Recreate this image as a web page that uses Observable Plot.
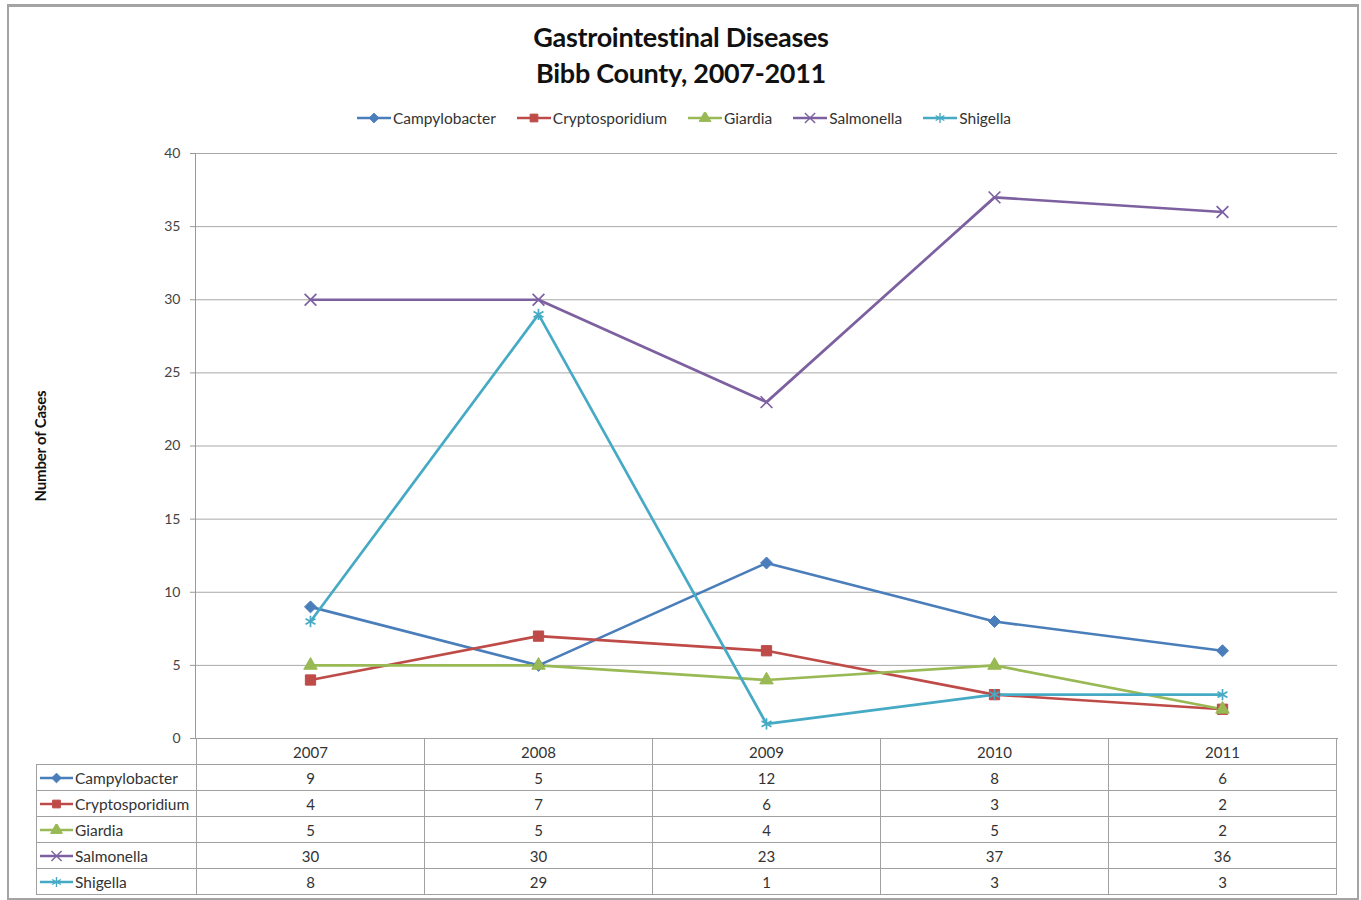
<!DOCTYPE html>
<html>
<head>
<meta charset="utf-8">
<script src="https://cdn.jsdelivr.net/npm/d3@7"></script>
<script src="https://cdn.jsdelivr.net/npm/@observablehq/plot@0.6"></script>
<style>
  html, body { margin: 0; padding: 0; background: #fff; }
  #wrap { position: relative; width: 1361px; height: 900px; font-family: Lato, "Open Sans", sans-serif; color: #222; overflow: hidden; }
  #frame { position: absolute; left: 7px; top: 4px; width: 1348px; height: 891px; border: 2px solid #a4a4a4; border-top-width: 3px; box-sizing: content-box; }
  #title { position: absolute; left: 0; width: 1362px; top: 19px; text-align: center; font-weight: bold; font-size: 27px; line-height: 36px; color: #111; letter-spacing: -0.3px; }
  #legend { position: absolute; left: 0; width: 1368px; top: 109px; display: flex; justify-content: center; gap: 21px; font-size: 15.5px; color: #333; }
  .item { display: flex; align-items: center; gap: 2px; }
  #ylab { position: absolute; left: 40px; top: 446px; transform: translate(-50%, -50%) rotate(-90deg); font-weight: bold; font-size: 15px; white-space: nowrap; color: #111; letter-spacing: -0.2px; }
  #plot { position: absolute; left: 0; top: 0; }
  #table { position: absolute; top: 738px; border-collapse: collapse; font-size: 15px; color: #333; table-layout: fixed; }
  #table td { border: 1px solid #a0a0a0; height: 26px; padding: 0; text-align: center; box-sizing: border-box; }
  #table td.lab { text-align: left; white-space: nowrap; font-size: 15.5px; }
  #table td.blank { border-left: none; border-top: none; }
  .keyc { display: inline-flex; align-items: center; gap: 2px; padding-left: 3px; }
</style>
</head>
<body>
<div id="wrap">
  <div id="frame"></div>
  <div id="title">Gastrointestinal Diseases<br>Bibb County, 2007-2011</div>
  <div id="legend"></div>
  <div id="ylab">Number of Cases</div>
  <div id="plot"></div>
  <table id="table"></table>
</div>
<script>
const years = ["2007", "2008", "2009", "2010", "2011"];
const seriesNames = ["Campylobacter", "Cryptosporidium", "Giardia", "Salmonella", "Shigella"];
const campylobacter = [9, 5, 12, 8, 6];
const cryptosporidium = [4, 7, 6, 3, 2];
const giardia = [5, 5, 4, 5, 2];
const salmonella = [30, 30, 23, 37, 36];
const shigella = [8, 29, 1, 3, 3];
const yTicks = [0, 5, 10, 15, 20, 25, 30, 35, 40];
const colors = ["#4a7ebb", "#be4b48", "#98b954", "#7d60a0", "#46aac5"];
const symbols = ["diamond2", "square", "triangle", "times", "asterisk"];
const filled = [true, true, true, false, false];
const markerR = [5.4, 5.8, 5.0, 5.4, 5.4];

const valuesBySeries = [campylobacter, cryptosporidium, giardia, salmonella, shigella];
const data = [];
seriesNames.forEach((s, i) => years.forEach((y, j) => data.push({series: s, year: y, value: valuesBySeries[i][j]})));

const W = 1361, H = 770;
const marks = [
  Plot.ruleY(yTicks.filter(t => t > 0), {stroke: "#a8a8a8", strokeWidth: 1}),
  Plot.axisY({ticks: yTicks, tickSize: 5, tickPadding: 10, fontSize: 14, color: "#444", stroke: "#999", label: null}),
  Plot.frame({anchor: "left", stroke: "#999"}),
  Plot.frame({anchor: "bottom", stroke: "#999"}),
  Plot.line(data, {x: "year", y: "value", z: "series", stroke: "series", strokeWidth: 2.7})
];
seriesNames.forEach((s, i) => {
  const sub = data.filter(d => d.series === s);
  if (filled[i]) {
    marks.push(Plot.dot(sub, {x: "year", y: "value", symbol: () => symbols[i], fill: colors[i], stroke: colors[i], strokeWidth: 1, r: markerR[i]}));
  } else {
    marks.push(Plot.dot(sub, {x: "year", y: "value", symbol: () => symbols[i], stroke: colors[i], strokeWidth: 1.7, r: markerR[i]}));
  }
});

const chart = Plot.plot({
  width: W, height: H,
  marginLeft: 195, marginRight: 24, marginTop: 153, marginBottom: H - 738,
  style: {background: "transparent", fontFamily: "Lato, sans-serif"},
  x: {type: "band", domain: years, padding: 0, axis: null},
  y: {domain: [0, 40]},
  color: {domain: seriesNames, range: colors},
  symbol: {domain: symbols, range: symbols},
  marks
});
document.getElementById("plot").appendChild(chart);

function keySvg(i, w) {
  const svg = d3.create("svg").attr("width", w).attr("height", 12);
  svg.append("line").attr("x1", 0).attr("x2", w).attr("y1", 6).attr("y2", 6).attr("stroke", colors[i]).attr("stroke-width", 2.6);
  const sym = {diamond2: d3.symbolDiamond2, square: d3.symbolSquare, triangle: d3.symbolTriangle, times: d3.symbolTimes, asterisk: d3.symbolAsterisk}[symbols[i]];
  const path = d3.symbol(sym, filled[i] ? 60 : 70)();
  svg.append("path").attr("d", path).attr("transform", `translate(${w/2},6)`)
    .attr("fill", filled[i] ? colors[i] : "none").attr("stroke", colors[i]).attr("stroke-width", filled[i] ? 1 : 1.4);
  return svg.node();
}

const legend = document.getElementById("legend");
seriesNames.forEach((s, i) => {
  const it = document.createElement("div");
  it.className = "item";
  it.appendChild(keySvg(i, 34));
  const t = document.createElement("span"); t.textContent = s; it.appendChild(t);
  legend.appendChild(it);
});

const xs = chart.scale("x");
const bw = xs.bandwidth;
const leftW = xs.apply(years[0]) - 36;
const table = document.getElementById("table");
table.style.left = "36px";
const cg = document.createElement("colgroup");
[leftW, ...years.map(() => bw)].forEach(w => { const c = document.createElement("col"); c.style.width = w + "px"; cg.appendChild(c); });
table.appendChild(cg);
table.style.width = (leftW + bw * years.length) + "px";
const hr = table.insertRow();
const blank = hr.insertCell(); blank.className = "blank";
years.forEach(y => { const c = hr.insertCell(); c.textContent = y; });
seriesNames.forEach((s, i) => {
  const r = table.insertRow();
  const c0 = r.insertCell(); c0.className = "lab";
  const k = document.createElement("span"); k.className = "keyc";
  k.appendChild(keySvg(i, 33));
  const t = document.createElement("span"); t.textContent = s; k.appendChild(t);
  c0.appendChild(k);
  valuesBySeries[i].forEach(v => { const c = r.insertCell(); c.textContent = v; });
});
</script>
</body>
</html>
